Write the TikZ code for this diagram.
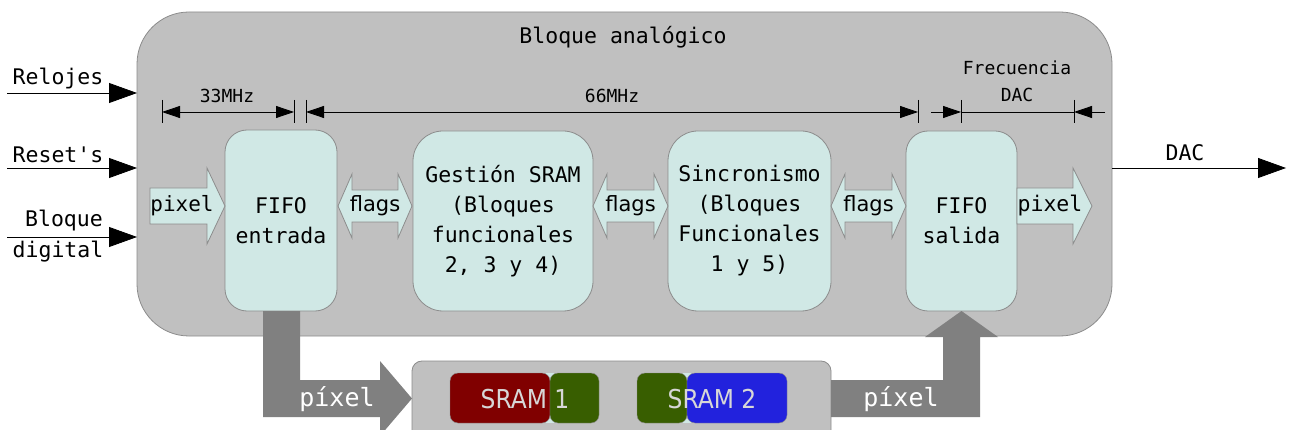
\documentclass[tikz,border=0pt]{standalone}
\usepackage{fontspec}
\setmainfont{DejaVu Sans Mono}
\newfontfamily\sansf{DejaVu Sans}
\newfontfamily\cond{DejaVu Sans Condensed}
\usetikzlibrary{arrows.meta}
\definecolor{boxgray}{RGB}{192,192,192}
\definecolor{edgegray}{RGB}{140,140,140}
\definecolor{cyanfill}{RGB}{208,232,229}
\definecolor{darkarrow}{RGB}{128,128,128}
\definecolor{sramred}{RGB}{128,0,0}
\definecolor{sramgreen}{RGB}{56,94,0}
\definecolor{sramblue}{RGB}{34,34,221}
\definecolor{sramtext}{RGB}{215,215,215}
\tikzset{
  mainbox/.style={draw=edgegray, fill=boxgray, line width=0.8pt, rounded corners=52pt, inner sep=0pt},
  blockbox/.style={draw=edgegray, fill=cyanfill, line width=0.8pt, inner sep=0pt, align=center,
     font=\fontsize{21.5}{30}\selectfont},
  lightarrow/.style={draw=edgegray, fill=cyanfill, line width=0.8pt},
  grayarrow/.style={fill=darkarrow},
  inarr/.style={line width=0.8pt, -{Triangle[length=28pt,width=20pt]}},
  dimline/.style={line width=0.8pt},
  dimtip/.style={line width=0.8pt, {Triangle[length=18pt,width=12pt]}-{Triangle[length=18pt,width=12pt]}},
  dimone/.style={line width=0.8pt, -{Triangle[length=18pt,width=12pt]}},
  lbl/.style={font=\fontsize{21.5}{30}\selectfont, inner sep=0pt, align=center},
  smalllbl/.style={font=\fontsize{18}{26}\selectfont, inner sep=0pt, align=center},
  flagtxt/.style={font=\sansf\fontsize{21}{24}\selectfont, inner sep=0pt},
  sramtxt/.style={font=\cond\fontsize{26}{30}\selectfont, text=sramtext, inner sep=0pt},
  pixtxt/.style={font=\fontsize{25}{28}\selectfont, text=white, inner sep=0pt},
  srambox/.style={rounded corners=8pt, draw=edgegray, line width=0.4pt}
}
\begin{document}
\begin{tikzpicture}[x=1pt,y=-1pt]
\useasboundingbox (0,0) rectangle (1290,430);
\fill[white] (0,0) rectangle (1290,430);

% main analog block
\node[mainbox, minimum width=975pt, minimum height=324pt] (main) at (624.5,174) {};
\node[lbl] (title) at (623,37) {Bloque analógico};

% input signals
\coordinate (rin1) at (7,93);   \coordinate (rend1) at (137,93);
\coordinate (rin2) at (7,168);  \coordinate (rend2) at (137,168);
\coordinate (rin3) at (7,237);  \coordinate (rend3) at (137,237);
\draw[inarr] (rin1) -- (rend1);
\draw[inarr] (rin2) -- (rend2);
\draw[inarr] (rin3) -- (rend3);
\node[lbl] (relojes) at (58,79) {Relojes};
\node[lbl] (resets) at (58,155) {Reset\textquotesingle s};
\node[lbl] (bloq) at (64,221) {Bloque};
\node[lbl] (digit) at (58,252) {digital};

% output DAC
\coordinate (dacs) at (1112,168); \coordinate (dace) at (1286,168);
\draw[inarr] (dacs) -- (dace);
\node[lbl] (daclbl) at (1185,153) {DAC};

% dimension lines
\foreach \n/\x in {t1/162,t2/294,t3/306,t4/918,t5/961,t6/1074}{
  \coordinate (\n a) at (\x,100); \coordinate (\n b) at (\x,123); \coordinate (\n) at (\x,112);
  \draw[dimline] (\n a) -- (\n b);
}
\draw[dimtip] (t1) -- (t2);
\draw[dimtip] (t3) -- (t4);
\coordinate (fl) at (931,112); \coordinate (fr) at (1105,112);
\draw[dimone] (fl) -- (t5);
\draw[dimline] (t5) -- (t6);
\draw[dimone] (fr) -- (t6);
\node[smalllbl] (mhz33) at (227,96) {33MHz};
\node[smalllbl] (mhz66) at (612,96) {66MHz};
\node[smalllbl] (frec) at (1017,68) {Frecuencia};
\node[smalllbl] (fdac) at (1017,95) {DAC};

% blocks
\node[blockbox, rounded corners=22pt, minimum width=112pt, minimum height=181pt] (fin) at (281,220.5) {FIFO\\entrada};
\node[blockbox, rounded corners=30pt, minimum width=180pt, minimum height=180pt] (gest) at (503,221) {Gestión SRAM\\(Bloques\\funcionales\\2, 3 y 4)};
\node[blockbox, rounded corners=30pt, minimum width=163pt, minimum height=180pt] (sinc) at (749.5,221) {Sincronismo\\(Bloques\\Funcionales\\1 y 5)};
\node[blockbox, rounded corners=22pt, minimum width=111pt, minimum height=180pt] (fout) at (961.5,221) {FIFO\\salida};

% light block arrows
\draw[lightarrow] (150,188) -- (207,188) -- (207,168) -- (225,206) -- (207,244) -- (207,224) -- (150,224) -- cycle;
\node[lbl, font=\fontsize{21}{24}\selectfont] (pixin) at (182,206) {pixel};
\foreach \a/\b/\n in {338/412/f1, 593/668/f2, 831/906/f3}{
  \draw[lightarrow] (\a,206) -- (\a+14,174) -- (\a+14,190) -- (\b-14,190) -- (\b-14,174) -- (\b,206)
     -- (\b-14,238) -- (\b-14,222) -- (\a+14,222) -- (\a+14,238) -- cycle;
  \node[flagtxt] (\n) at ({(\a+\b)/2},206) {flags};
}
\draw[lightarrow] (1017,188) -- (1073,188) -- (1073,168) -- (1092,206) -- (1073,244) -- (1073,224) -- (1017,224) -- cycle;
\node[lbl] (pixout) at (1050,206) {pixel};

% bottom SRAM container
\draw[draw=edgegray, fill=boxgray, line width=0.8pt, rounded corners=10pt] (412,361) rectangle (831,450);
\fill[cyanfill] (545,373) rectangle (555,423);
\fill[cyanfill] (682,373) rectangle (692,423);
\draw[srambox, fill=sramred] (450,373) rectangle (550,423);
\draw[srambox, fill=sramgreen] (550,373) rectangle (599,423);
\draw[srambox, fill=sramgreen] (637,373) rectangle (687,423);
\draw[srambox, fill=sramblue] (687,373) rectangle (787,423);
\node[sramtxt] (s1) at (525,399) {SRAM 1};
\node[sramtxt] (s2) at (712,399) {SRAM 2};

% gray data arrows
\fill[grayarrow] (263,311) -- (300,311) -- (300,380) -- (380,380) -- (380,361) -- (412,398.5) -- (380,436) -- (380,417) -- (263,417) -- cycle;
\fill[grayarrow] (831,380) -- (943,380) -- (943,337) -- (925,337) -- (961.5,311) -- (998,337) -- (980,337) -- (980,417) -- (831,417) -- cycle;
\node[pixtxt] (p1) at (337,399) {píxel};
\node[pixtxt] (p2) at (901,399) {píxel};
\end{tikzpicture}
\end{document}
